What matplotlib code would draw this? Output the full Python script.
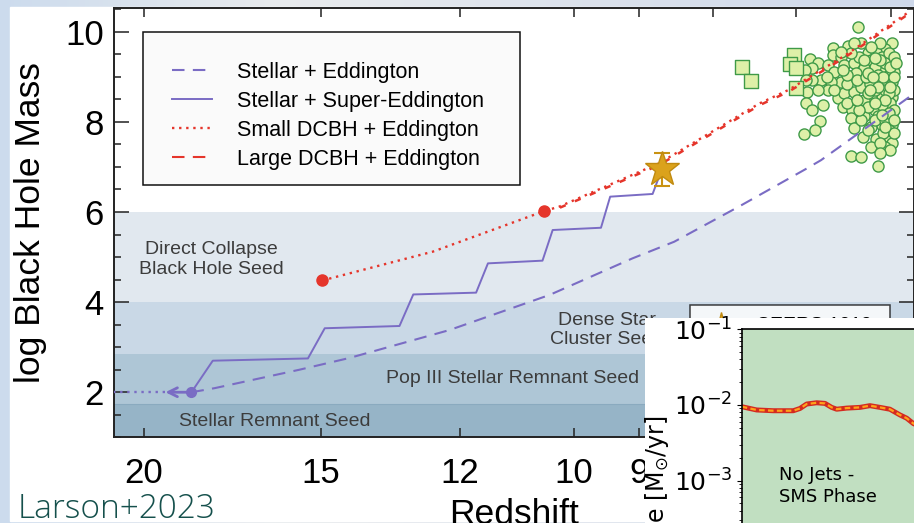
import numpy as np
import matplotlib.pyplot as plt
from matplotlib.lines import Line2D
from matplotlib.patches import Rectangle
from matplotlib.ticker import FixedLocator, MultipleLocator

plt.rcParams['font.family'] = ['Liberation Sans', 'DejaVu Sans']

# growth tracks, (redshift, log M_BH)
edd_z = [18.5, 17.82, 15.53, 14.33, 12.20, 10.39, 9.10, 8.51, 7.67, 6.89, 6.72, 5.82]
edd_m = [2.00, 2.09, 2.50, 2.76, 3.38, 4.16, 4.97, 5.34, 6.12, 6.95, 7.15, 8.56]

super_z = [18.5, 17.87, 15.32, 14.91, 13.22, 12.93, 11.69, 11.47, 10.51, 10.34, 9.57, 9.43, 8.81, 8.68]
super_m = [2.00, 2.70, 2.75, 3.42, 3.47, 4.17, 4.21, 4.86, 4.92, 5.60, 5.65, 6.34, 6.40, 6.95]

small_z = [14.97, 12.53, 10.48, 10.23, 8.72, 7.42, 7.08, 6.46, 5.84]
small_m = [4.48, 5.12, 6.02, 6.12, 7.08, 8.41, 8.71, 9.48, 10.42]

large_z = [10.48, 10.23, 8.72, 7.42, 7.08, 6.46, 5.84]
large_m = [6.00, 6.09, 7.04, 8.37, 8.67, 9.44, 10.38]

# seed starting points
stellar_seed = (18.5, 2.0)
stellar_back_z = 19.3
small_seed = (14.97, 4.48)
large_seed = (10.48, 6.02)

# CEERS AGN
agn_z, agn_m, agn_err = 8.68, 6.95, 0.37

# quasars
qso_z = [6.33, 6.59, 6.43, 6.30, 5.99, 6.06, 6.59, 6.51, 6.23, 6.15,
         6.84, 6.75, 6.65, 6.82, 6.90, 6.58, 6.47, 6.37, 6.32, 6.20,
         6.09, 6.02, 5.99, 5.97, 6.06, 6.16, 6.27, 6.35, 6.51, 6.61,
         6.72, 6.82, 6.88, 6.87, 6.89, 6.70, 6.82, 6.54, 6.47, 6.37,
         6.30, 6.21, 6.09, 5.99, 5.99, 6.09, 6.20, 6.27, 6.49, 6.39,
         6.27, 6.16, 6.06, 5.99, 6.40, 6.37, 6.28, 6.20, 6.09, 5.99,
         6.02, 6.15, 5.99, 6.20, 6.06, 6.73, 6.79, 6.91, 6.40, 6.30,
         6.13, 6.65, 6.75, 6.58, 6.44, 6.34, 6.16, 6.06, 6.02, 6.25,
         6.13, 6.44, 6.40, 6.51, 6.37, 6.11, 6.20, 6.06, 5.97, 6.23,
         6.13, 6.30, 6.16, 6.06, 6.44, 6.32, 6.01, 6.09, 6.23, 5.97,
         6.11, 6.01, 6.08, 5.97, 6.13, 6.02, 6.06, 5.97, 6.02, 6.09,
         6.02, 6.08, 5.97, 6.11, 6.01, 6.16, 6.21, 6.27, 6.16, 6.23,
         6.18, 6.01, 6.06, 5.97, 5.95, 6.34, 6.49, 6.66, 6.23, 6.11]
qso_m = [10.10, 9.63, 9.68, 9.74, 9.74, 9.61, 9.48, 9.45, 9.52, 9.56,
         9.39, 9.30, 9.26, 9.19, 9.14, 9.11, 9.26, 9.30, 9.45, 9.37,
         9.45, 9.52, 9.30, 9.11, 9.19, 9.22, 9.19, 9.08, 8.89, 8.89,
         8.93, 8.93, 8.93, 8.67, 8.41, 8.37, 8.26, 8.52, 8.63, 8.67,
         8.78, 8.85, 8.89, 8.89, 8.56, 8.56, 8.56, 8.48, 8.34, 8.26,
         8.12, 8.26, 8.26, 8.12, 8.08, 7.86, 7.67, 7.89, 7.93, 7.93,
         7.67, 7.63, 7.52, 7.45, 7.45, 8.02, 7.83, 7.72, 7.25, 7.21,
         7.01, 8.71, 8.71, 8.71, 8.85, 8.93, 8.71, 8.71, 9.04, 9.00,
         9.04, 9.04, 9.52, 9.56, 9.74, 9.74, 9.67, 9.30, 9.45, 8.34,
         8.12, 8.04, 8.04, 8.04, 8.41, 8.26, 8.41, 8.37, 8.63, 8.71,
         9.37, 9.22, 9.00, 9.00, 8.78, 8.63, 8.48, 8.26, 8.19, 8.15,
         7.82, 7.75, 7.75, 7.52, 7.37, 8.41, 8.71, 9.37, 9.41, 9.08,
         9.00, 8.78, 7.89, 8.04, 9.30, 8.48, 9.15, 9.00, 7.82, 7.30]
hiz_qso_z = [7.63, 7.52, 7.02, 7.07, 7.00, 7.00]
hiz_qso_m = [9.22, 8.91, 9.48, 9.28, 9.20, 8.76]

# seed regimes (log M range)
bands = [(4.0, 6.0, '#e1e8ef'), (2.85, 4.0, '#c9d8e6'),
         (1.73, 2.85, '#aec6d6'), (1.0, 1.73, '#96b4c7')]

x_ticks = [20, 15, 12, 10, 9, 8, 7, 6]

# accretion history shown in the inset
t_in = [0, 1.51, 3.19, 5.20, 5.88, 6.55, 7.56, 8.40, 9.07, 9.58, 10.58, 11.93,
        12.93, 13.94, 14.94, 15.95, 16.63, 17.30, 17.97, 18.6]
rate_in = [0.0095, 0.0086, 0.0084, 0.0084, 0.0090, 0.0103, 0.0107, 0.0105, 0.0093,
           0.0088, 0.0091, 0.0093, 0.0098, 0.0093, 0.0088, 0.0074, 0.0067, 0.0057,
           0.0052, 0.0047]

W, H = 914, 523
PURPLE = '#7a6cc4'
RED = '#e5352b'
GOLD = '#dba21c'
QSO_FACE = '#def0a8'
QSO_EDGE = '#3f9a48'

fig = plt.figure(figsize=(W / 100, H / 100), dpi=100)

# slide background
bg = fig.add_axes([0, 0, 1, 1], zorder=-1)
bg.set_axis_off()
xs = np.linspace(0, 1, 400)
c_left = np.array([0.80, 0.86, 0.93])
c_mid = np.array([0.91, 0.92, 0.93])
c_right = np.array([0.81, 0.85, 0.92])
w1 = np.clip(xs / 0.3, 0, 1)[:, None]
w2 = np.clip((xs - 0.3) / 0.7, 0, 1)[:, None]
row = np.where(xs[:, None] < 0.3, c_left * (1 - w1) + c_mid * w1, c_mid * (1 - w2) + c_right * w2)
bg.imshow(np.tile(row[None], (20, 1, 1)), extent=[0, 1, 0, 1], aspect='auto')
bg.add_patch(Rectangle((10 / W, 2 / H), 1, (521 - 7) / H, color='white'))
bg.set_xlim(0, 1)
bg.set_ylim(0, 1)

ax = fig.add_axes([113.7 / W, 1 - 437.3 / H, (W - 113.7) / W, (437.3 - 8.3) / H], zorder=1)


# redshift axis spaced as (1+z)^-0.1
def fwd(z):
    return -(1 + np.asarray(z, dtype=float)) ** -0.1


def inv(u):
    return (-np.asarray(u, dtype=float)) ** -10 - 1


ax.set_xscale('function', functions=(fwd, inv))
ax.set_xlim(21.0, 5.78)
ax.set_ylim(1.0, 10.52)

for lo, hi, col in bands:
    ax.axhspan(lo, hi, color=col, lw=0, zorder=0)
ax.axhline(1.73, color='#8aaabf', lw=0.8, zorder=0.5)

band_kw = dict(transform=ax.transAxes, ha='center', va='center', fontsize=14,
               color='#3c3c3c', zorder=1)
ax.text(0.1222, 0.4138, 'Direct Collapse\nBlack Hole Seed', **band_kw)
ax.text(0.6164, 0.2501, 'Dense Star\nCluster Seed', **band_kw)
ax.text(0.4983, 0.1359, 'Pop III Stellar Remnant Seed', **band_kw)
ax.text(0.2016, 0.0357, 'Stellar Remnant Seed', **band_kw)

ax.scatter(qso_z, qso_m, s=64, marker='o', facecolor=QSO_FACE, edgecolor=QSO_EDGE,
           linewidth=1.0, zorder=3)
ax.scatter(hiz_qso_z, hiz_qso_m, s=110, marker='s', facecolor=QSO_FACE, edgecolor=QSO_EDGE,
           linewidth=1.0, zorder=3)

ax.plot(edd_z, edd_m, color=PURPLE, lw=1.5, dashes=(6, 4), zorder=4)
ax.plot(super_z, super_m, color=PURPLE, lw=1.4, zorder=4)
ax.plot(small_z, small_m, color=RED, lw=1.7, dashes=(1, 2), zorder=4)
ax.plot(large_z, large_m, color=RED, lw=1.8, dashes=(2.5, 4), zorder=4)

ax.plot([stellar_back_z, 22], [stellar_seed[1]] * 2, color=PURPLE, lw=1.7, dashes=(1, 2), zorder=4)
ax.annotate('', xy=(stellar_back_z, stellar_seed[1]), xytext=stellar_seed,
            arrowprops=dict(arrowstyle='->', color=PURPLE, lw=2.0, mutation_scale=16,
                            shrinkA=0, shrinkB=0), zorder=4)
ax.plot(*stellar_seed, 'o', color=PURPLE, ms=7, zorder=5)
ax.plot(*small_seed, 'o', color=RED, ms=8, zorder=5)
ax.plot(*large_seed, 'o', color=RED, ms=8, zorder=5)

ax.errorbar(agn_z, agn_m, yerr=agn_err, fmt='*', ms=26, color=GOLD, mec='#c08a10',
            ecolor='#c99212', elinewidth=1.5, capsize=6, capthick=1.5, zorder=6)

# axes styling
ax.xaxis.set_major_locator(FixedLocator(x_ticks))
ax.xaxis.set_minor_locator(FixedLocator([]))
ax.set_xticklabels([str(t) for t in x_ticks])
ax.yaxis.set_major_locator(MultipleLocator(2))
ax.yaxis.set_minor_locator(MultipleLocator(0.5))
ax.tick_params(axis='both', which='both', direction='in', top=True, right=True,
               colors='#222222', labelcolor='black', labelsize=25)
ax.tick_params(axis='y', which='major', length=11, width=1.1, pad=7)
ax.tick_params(axis='y', which='minor', length=5, width=1.1)
ax.tick_params(axis='x', which='major', length=6.5, width=1.1, pad=14)
for sp in ax.spines.values():
    sp.set_linewidth(1.4)
    sp.set_color('#222222')
ax.set_xlabel('Redshift', fontsize=25.5, labelpad=6)
ax.set_ylabel('log Black Hole Mass', fontsize=25.5)
ax.yaxis.set_label_coords(-0.083, 0.5)

# model legend
ax.add_patch(Rectangle((0.0366, 0.5881), 0.5077 - 0.0366, 0.9455 - 0.5881,
                       transform=ax.transAxes, facecolor='#fafafa', edgecolor='#111111',
                       lw=1.1, zorder=7))
handles = [Line2D([], [], color=PURPLE, lw=1.5, dashes=(6, 4)),
           Line2D([], [], color=PURPLE, lw=1.4),
           Line2D([], [], color=RED, lw=1.7, dashes=(1, 2)),
           Line2D([], [], color=RED, lw=1.5, dashes=(6, 4))]
labels = ['Stellar + Eddington', 'Stellar + Super-Eddington',
          'Small DCBH + Eddington', 'Large DCBH + Eddington']
leg = ax.legend(handles, labels, loc='upper left', bbox_to_anchor=(0.0728, 0.8748),
                frameon=False, fontsize=15.5, borderpad=0, borderaxespad=0,
                handlelength=1.86, handletextpad=1.16, labelspacing=0.37)
leg.set_zorder(8)
ax.add_artist(leg)

# observations legend
obs_handles = [Line2D([], [], ls='none', marker='*', ms=16, color=GOLD, mec='#c08a10'),
               Line2D([], [], ls='none', marker='o', ms=7, mfc=QSO_FACE, mec=QSO_EDGE),
               Line2D([], [], ls='none', marker='s', ms=8, mfc=QSO_FACE, mec=QSO_EDGE)]
leg2 = ax.legend(obs_handles, ['CEERS 1019', 'Quasars', 'Quasars z > 7'],
                 loc='upper left', bbox_to_anchor=(0.720, 0.3084), fontsize=14,
                 fancybox=False, edgecolor='#111111', borderaxespad=0, borderpad=0.6)
leg2.get_frame().set_linewidth(1.1)
leg2.set_zorder(8)

# inset panel
panel = fig.add_axes([645 / W, 0, 1 - 645 / W, (H - 318.3) / H], zorder=2)
panel.set_axis_off()
panel.add_patch(Rectangle((0, 0), 1, 1, transform=panel.transAxes, color='white'))

in_top = 329.3
in_h = 5 * 75.7
axi = fig.add_axes([741.7 / W, 1 - (in_top + in_h) / H, 446.3 / W, in_h / H], zorder=3)
axi.set_facecolor('#c1dfc1')
axi.set_yscale('log')
axi.set_ylim(1e-6, 1e-1)
axi.set_xlim(0, 45)
axi.plot(t_in, rate_in, color='#d42a20', lw=3.6, solid_capstyle='round')
axi.plot(t_in, rate_in, color='#ffa31a', lw=1.6, dashes=(2.5, 1.5))
axi.text(3.8, 8.5e-4, 'No Jets -\nSMS Phase', fontsize=13, family='DejaVu Sans',
         va='center', ha='left', linespacing=1.25)
axi.tick_params(axis='y', which='major', labelsize=18)
for lab in axi.get_yticklabels():
    lab.set_family('DejaVu Sans')
axi.set_xticks([])
for sp in axi.spines.values():
    sp.set_linewidth(1.2)
axi.set_ylabel('Accretion Rate [M$_{\\odot}$/yr]', fontsize=17, family='DejaVu Sans', ha='right')
axi.yaxis.set_label_coords(-0.158, 0.7736)

fig.text(18 / W, (H - 518) / H, 'Larson+2023', fontsize=24, color='#15504c',
         family=['Open Sans', 'DejaVu Sans'], fontweight='light', ha='left', va='baseline',
         zorder=10)

fig.savefig('out.png', dpi=100)
